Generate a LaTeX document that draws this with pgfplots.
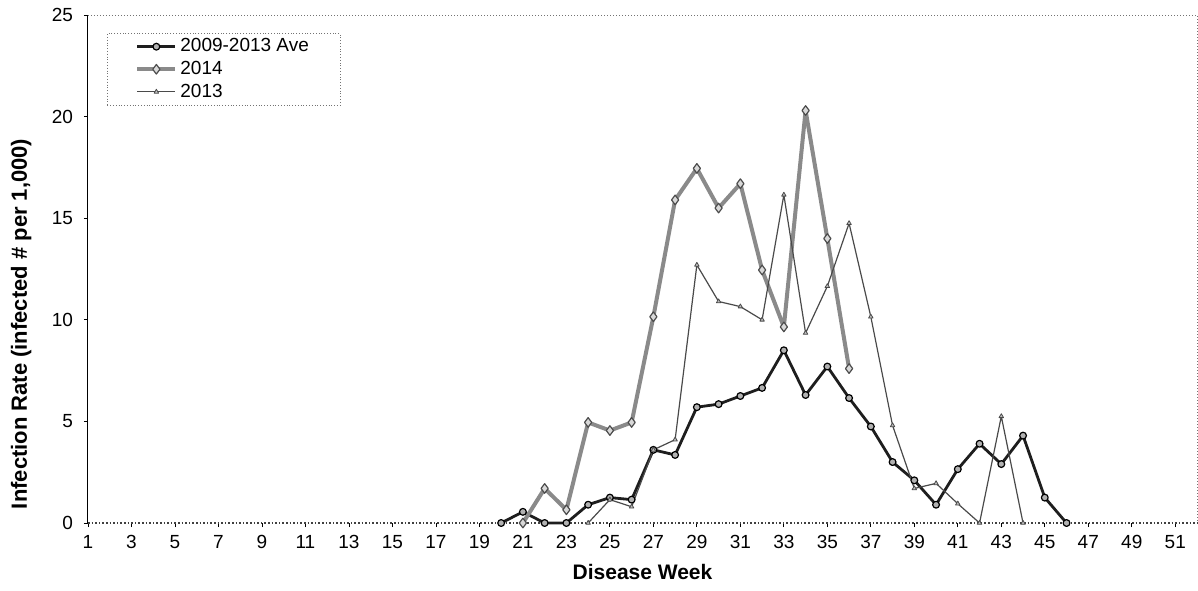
\documentclass[border=0pt]{standalone}
\usepackage{pgfplots}
\pgfplotsset{compat=1.18}
\usepackage{fontspec}
\setmainfont{Liberation Sans}

\definecolor{avecol}{HTML}{1E1E1E}
\definecolor{c2014}{HTML}{8A8A8A}
\definecolor{c2013}{HTML}{4A4A4A}

\begin{document}
\begin{tikzpicture}
\begin{axis}[
  scale only axis,
  width=554.5pt, height=254pt,
  xmin=1, xmax=52, ymin=0, ymax=25,
  xtick={1,3,...,51},
  ytick={0,5,...,25},
  tick align=outside,
  major tick length=2pt,
  tick style={black, line width=0.4pt},
  xtick pos=bottom, ytick pos=left,
  axis line style={draw=none},
  clip=false,
  /pgf/number format/assume math mode=true,
  ticklabel style={font=\fontsize{9.5}{11}\selectfont},
  yticklabel style={xshift=-2pt},
  xticklabel style={yshift=-0.5pt},
  xlabel={Disease Week},
  ylabel={Infection Rate (infected \# per 1,000)},
  xlabel style={font=\fontsize{10.5}{12}\selectfont\bfseries, at={(axis description cs:0.5,-0.0965)}, anchor=center},
  ylabel style={font=\fontsize{11}{13}\selectfont\bfseries, at={(axis description cs:-0.0603,0.392)}, anchor=center},
  legend cell align=left,
  legend image code/.code={\draw[solid,mark repeat=2,mark phase=2,#1] plot coordinates {(0pt,0pt)(9.5pt,0pt)(19pt,0pt)};},
  legend style={at={(axis description cs:0.0171,0.9646)}, anchor=north west,
    draw=black!55, densely dotted, line width=0.4pt,
    font=\fontsize{9.5}{11}\selectfont,
    inner xsep=14pt, inner ysep=1pt,
    nodes={inner sep=1.5pt, text height=6.8pt, text depth=1.5pt}},
]
\draw[black!55, densely dotted, line width=0.5pt] (rel axis cs:0,1) -- (rel axis cs:1,1) -- (rel axis cs:1,0);
\draw[black!75, densely dotted, line width=0.8pt] (rel axis cs:0,0) -- (rel axis cs:1,0);
\draw[black, line width=0.5pt] (rel axis cs:0,0) -- (rel axis cs:0,1);

% 2009-2013 average
\addplot[avecol, line width=1.4pt, line join=round, mark=*, mark size=1.7pt,
  mark options={solid, fill=gray!60, draw=black, line width=0.6pt}] coordinates {
  (20,0) (21,0.55) (22,0) (23,0) (24,0.9) (25,1.25) (26,1.15) (27,3.6)
  (28,3.35) (29,5.7) (30,5.85) (31,6.25) (32,6.65) (33,8.5) (34,6.3)
  (35,7.7) (36,6.15) (37,4.75) (38,3.0) (39,2.1) (40,0.9) (41,2.65)
  (42,3.9) (43,2.9) (44,4.3) (45,1.25) (46,0)
};
\addlegendentry{2009-2013 Ave}

% 2014
\addplot[c2014, line width=2pt, line join=round, mark=diamond*, mark size=2.4pt,
  mark options={solid, fill=gray!30, draw=black!70, line width=0.6pt}] coordinates {
  (21,0) (22,1.7) (23,0.65) (24,4.95) (25,4.55) (26,4.95) (27,10.15)
  (28,15.9) (29,17.45) (30,15.5) (31,16.7) (32,12.45) (33,9.65)
  (34,20.3) (35,14.0) (36,7.6)
};
\addlegendentry{2014}

% 2013
\addplot[c2013, line width=0.6pt, line join=round, mark=triangle*, mark size=1.3pt,
  mark options={solid, fill=gray!50, draw=c2013, line width=0.4pt}] coordinates {
  (24,0) (25,1.15) (26,0.8) (27,3.6) (28,4.1) (29,12.7) (30,10.9)
  (31,10.65) (32,10.0) (33,16.15) (34,9.35) (35,11.65) (36,14.75)
  (37,10.15) (38,4.8) (39,1.7) (40,1.95) (41,0.95) (42,0) (43,5.25) (44,0)
};
\addlegendentry{2013}
\end{axis}
\pgfresetboundingbox
\path[use as bounding box] (-44pt,-33.5pt) rectangle (555pt,261.5pt);
\end{tikzpicture}
\end{document}
